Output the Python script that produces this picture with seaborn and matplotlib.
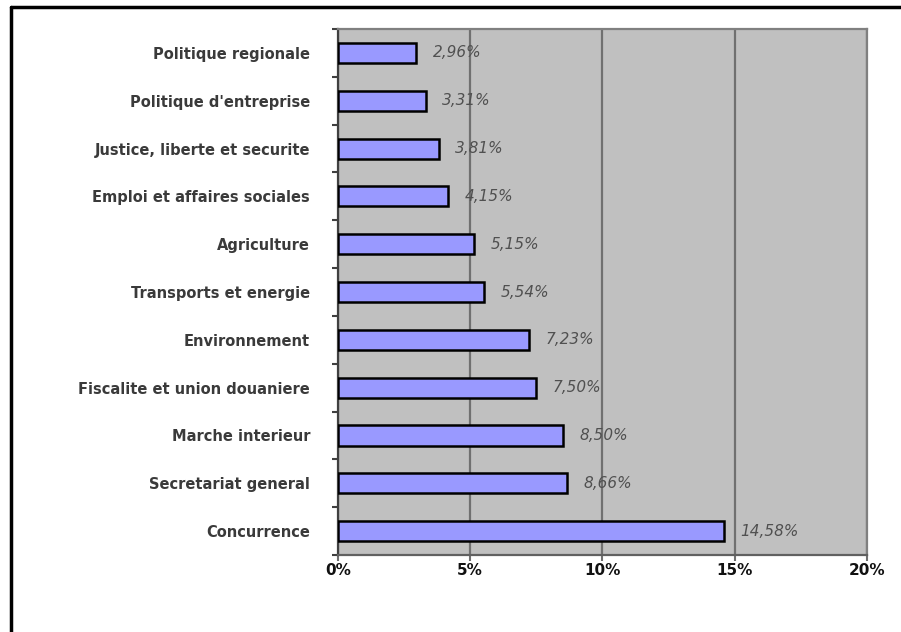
import matplotlib
matplotlib.use("Agg")
import matplotlib.pyplot as plt
from matplotlib.lines import Line2D
from matplotlib.ticker import FixedLocator, FuncFormatter
import seaborn as sns
import pandas as pd

categories = [
    "Politique regionale",
    "Politique d'entreprise",
    "Justice, liberte et securite",
    "Emploi et affaires sociales",
    "Agriculture",
    "Transports et energie",
    "Environnement",
    "Fiscalite et union douaniere",
    "Marche interieur",
    "Secretariat general",
    "Concurrence",
]
shares = [2.96, 3.31, 3.81, 4.15, 5.15, 5.54, 7.23, 7.50, 8.50, 8.66, 14.58]
x_ticks = [0, 5, 10, 15, 20]

df = pd.DataFrame({"direction": categories, "part": shares})

sns.set_theme(style="white")
plt.rcParams["font.family"] = ["DejaVu Sans"]

fig = plt.figure(figsize=(9.01, 6.32), dpi=100)
ax = fig.add_axes([0.3751, 0.1218, 0.5871, 0.8323])
ax.set_facecolor("#C0C0C0")

sns.barplot(data=df, x="part", y="direction", order=categories, orient="h",
            color="#9999FF", saturation=1, width=0.42,
            edgecolor="black", linewidth=1.8, ax=ax, zorder=3)

ax.set_xlim(0, 20)
ax.set_ylim(10.5, -0.5)
ax.set_xlabel("")
ax.set_ylabel("")

# vertical gridlines
ax.set_xticks(x_ticks)
ax.xaxis.set_major_formatter(FuncFormatter(lambda v, p: f"{int(v)}%"))
ax.grid(axis="x", color="#707070", linewidth=1.6, zorder=1)
ax.grid(axis="y", visible=False)
ax.set_axisbelow(True)

# category separators as tick marks on the y axis
ax.yaxis.set_minor_locator(FixedLocator([i - 0.5 for i in range(len(categories) + 1)]))
ax.tick_params(axis="y", which="major", length=0, pad=20, labelsize=10.5,
               labelcolor="#3a3a3a")
ax.tick_params(axis="y", which="minor", left=True, length=4, width=1.5,
               color="#404040")
ax.tick_params(axis="x", which="major", bottom=True, length=4, width=1.5,
               color="#707070", pad=2, labelsize=11, labelcolor="#111111")
for lab in ax.get_yticklabels():
    lab.set_fontweight("bold")
for lab in ax.get_xticklabels():
    lab.set_fontweight("bold")

for side, sp in ax.spines.items():
    sp.set_visible(True)
    sp.set_color("#808080")
    sp.set_linewidth(1.6)
ax.spines["left"].set_color("#404040")
ax.spines["bottom"].set_color("#606060")

# value labels
for i, v in enumerate(shares):
    ax.annotate(f"{v:.2f}%".replace(".", ","), xy=(v, i), xytext=(12, 0),
                textcoords="offset points", ha="left", va="center",
                fontsize=11, fontstyle="italic", color="#505050", zorder=4)

# frame lines on the left and top of the figure
fig.add_artist(Line2D([10.5 / 901, 10.5 / 901], [0, 1 - 7 / 632],
                      transform=fig.transFigure, color="black", linewidth=2.5))
fig.add_artist(Line2D([10.5 / 901, 1], [1 - 7 / 632, 1 - 7 / 632],
                      transform=fig.transFigure, color="black", linewidth=2.5))

fig.savefig("out.png", dpi=100)
